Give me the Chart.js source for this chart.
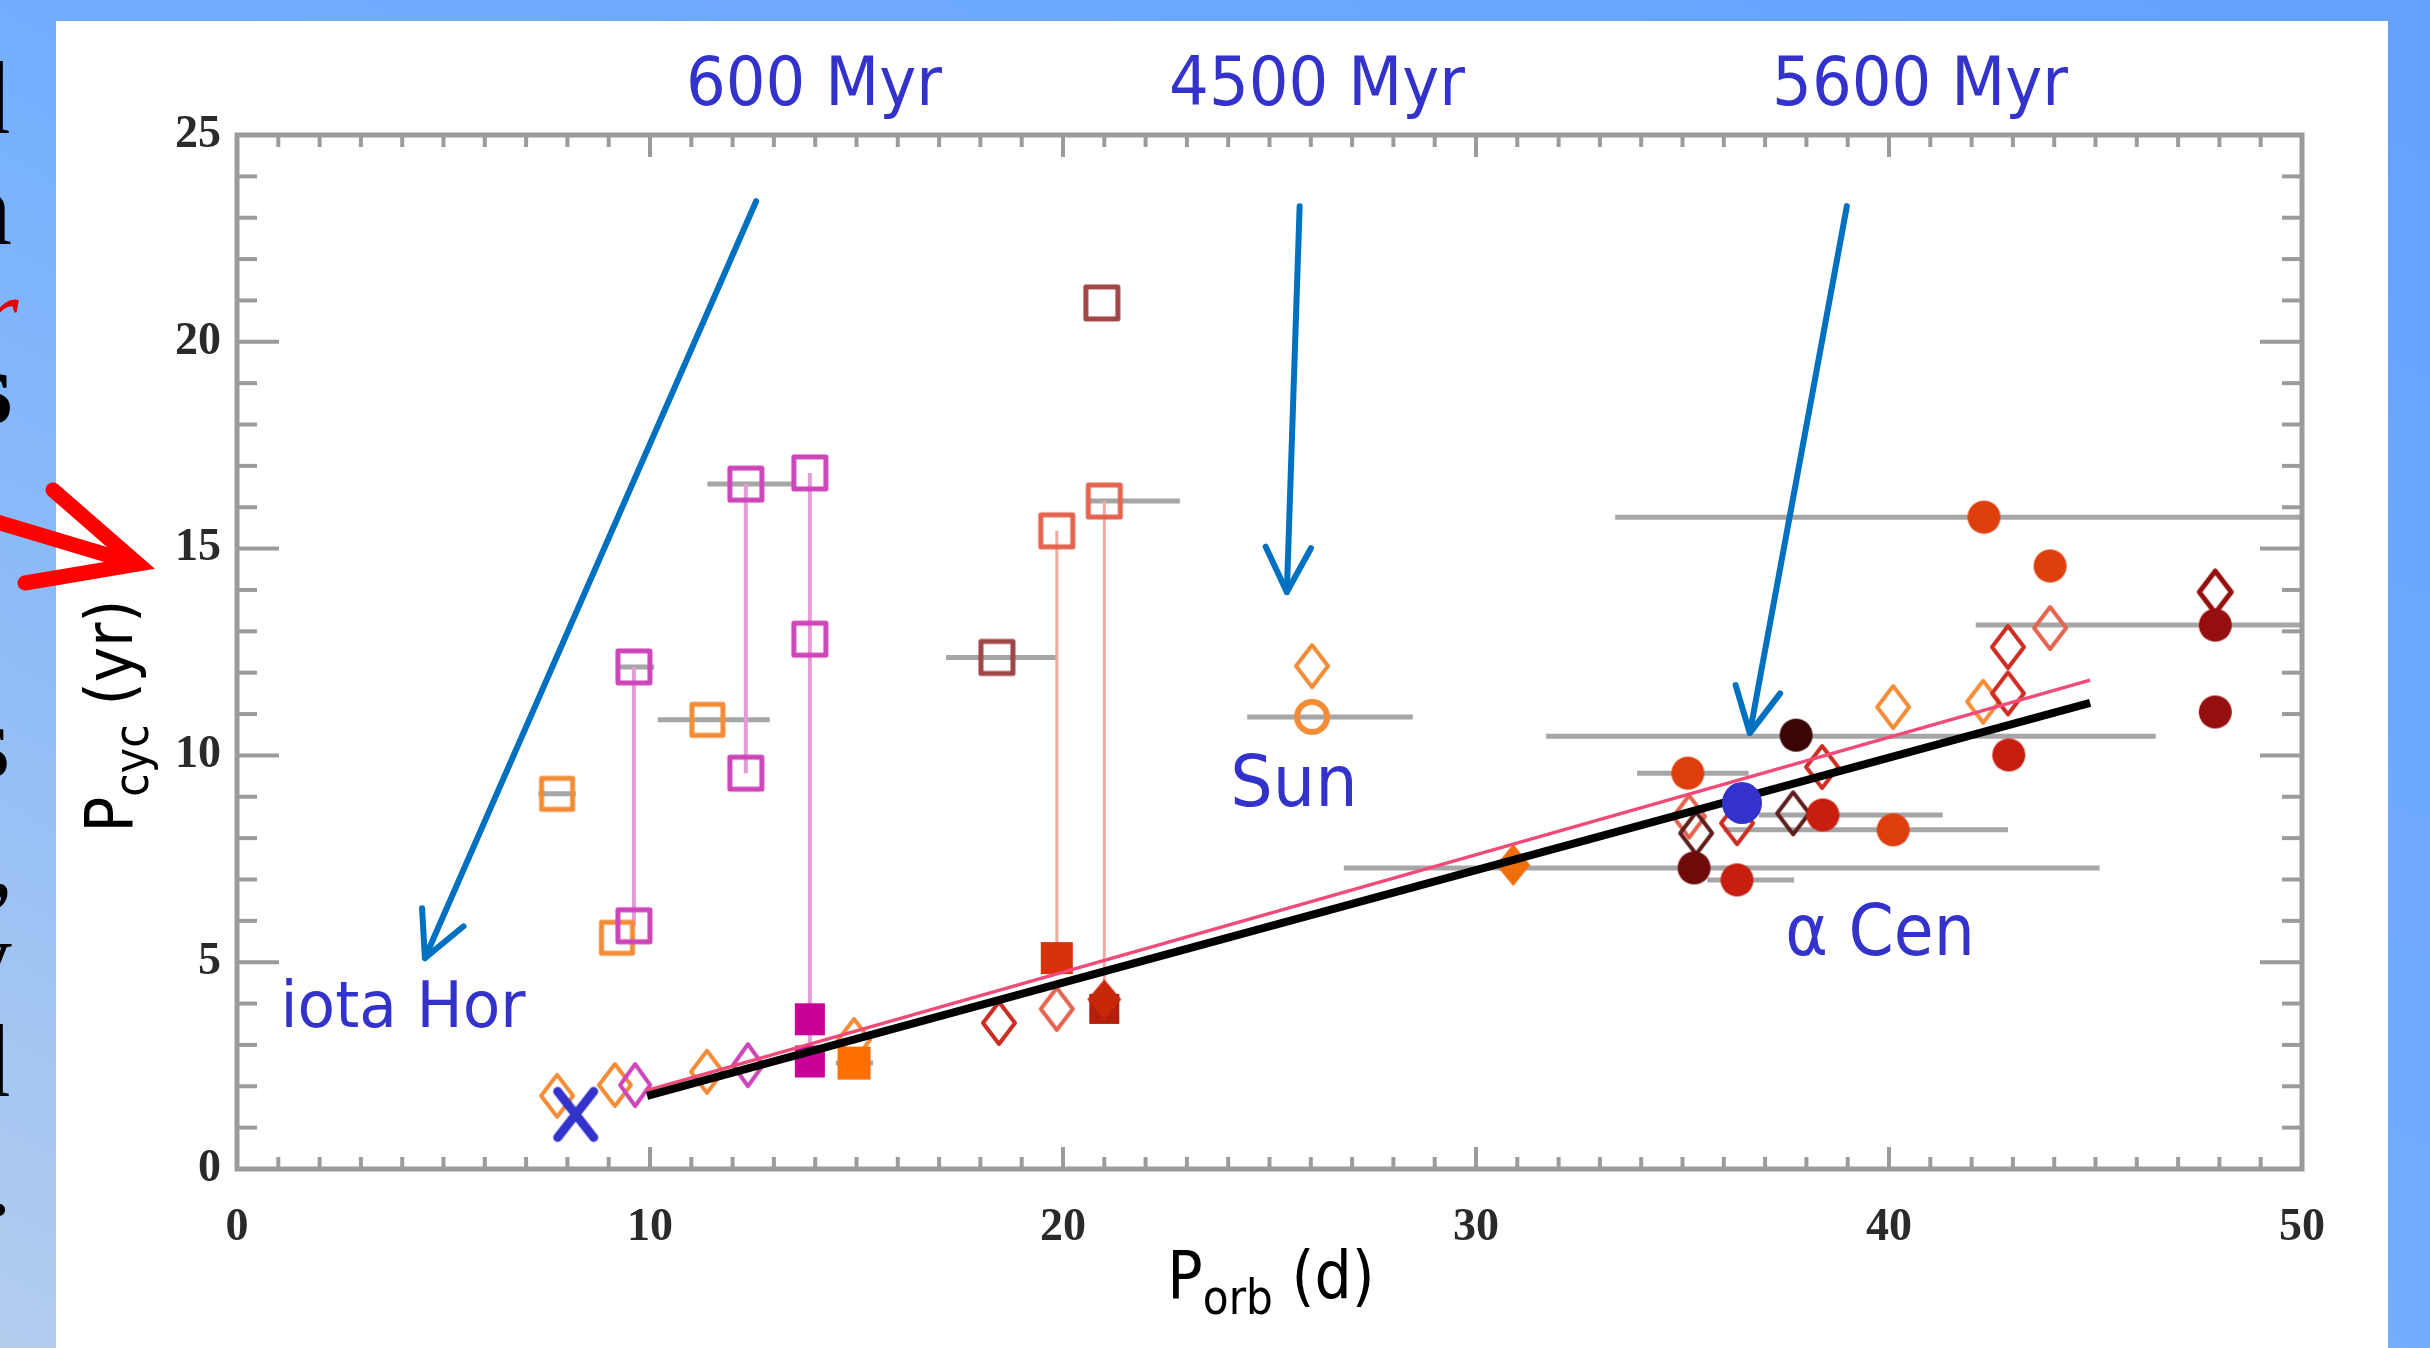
<!DOCTYPE html>
<html>
<head>
<meta charset="utf-8">
<script src="https://cdn.jsdelivr.net/npm/chart.js@4.4.1/dist/chart.umd.min.js"></script>
<style>
html,body{margin:0;padding:0;width:2430px;height:1348px;overflow:hidden;}
body{position:relative;background:linear-gradient(to bottom left,#64a1ff 0%,#71aeff 50%,#b3cdee 100%);font-family:'DejaVu Sans',sans-serif;}
#panel{position:absolute;left:56px;top:21px;width:2332px;height:1327px;background:#fff;}
#c{position:absolute;left:0;top:0;}
.ann{position:absolute;color:#3333cc;white-space:nowrap;line-height:1;}
.axt{position:absolute;color:#000;white-space:nowrap;line-height:1;font-size:66px;}
.sub{position:relative;top:16px;font-size:0.72em;}
#lefttext{position:absolute;left:0;top:0;width:56px;height:1348px;overflow:hidden;font-family:'Liberation Serif',serif;font-size:104px;color:#000;}
#lefttext div{position:absolute;line-height:1;}
#redarrow{position:absolute;left:0;top:0;}
</style>
</head>
<body>
<div id="panel"></div>
<div id="lefttext">
  <div style="left:-42px;top:46px">d</div>
  <div style="left:-40px;top:157px">n</div>
  <div style="left:-22px;top:262px;color:#e00000;font-style:italic">r</div>
  <div style="left:-28px;top:336px;font-weight:bold">s</div>
  <div style="left:-30px;top:690px">s</div>
  <div style="left:-12px;top:808px">,</div>
  <div style="left:-40px;top:905px">y</div>
  <div style="left:-42px;top:1009px">d</div>
  <div style="left:-14px;top:1128px">.</div>
</div>
<canvas id="c" width="2430" height="1348" style="width:2430px;height:1348px"></canvas>
<svg id="redarrow" width="2430" height="1348" viewBox="0 0 2430 1348">
  <line x1="-6" y1="521" x2="124" y2="560" stroke="#ff0000" stroke-width="15" stroke-linecap="round"/>
  <polyline points="53,490 138,564 25,583" fill="none" stroke="#ff0000" stroke-width="15" stroke-linecap="round" stroke-linejoin="miter"/>
</svg>
<div class="ann" style="left:814px;top:82px;font-size:68px;transform:translate(-50%,-50%) scaleX(0.92)">600 Myr</div>
<div class="ann" style="left:1317px;top:82px;font-size:68px;transform:translate(-50%,-50%) scaleX(0.92)">4500 Myr</div>
<div class="ann" style="left:1920px;top:82px;font-size:68px;transform:translate(-50%,-50%) scaleX(0.92)">5600 Myr</div>
<div class="ann" style="left:1294px;top:781px;font-size:72px;transform:translate(-50%,-50%) scaleX(0.93)">Sun</div>
<div class="ann" style="left:1880px;top:930px;font-size:72px;transform:translate(-50%,-50%) scaleX(0.9)">α Cen</div>
<div class="ann" style="left:403px;top:1005px;font-size:64px;transform:translate(-50%,-50%) scaleX(0.96)">iota Hor</div>
<div class="axt" id="xtitle" style="left:1271px;top:1276px;transform:translate(-50%,-50%) scaleX(0.89)">P<span class="sub">orb</span> (d)</div>
<div class="axt" id="ytitle" style="left:110px;top:716px;transform:translate(-50%,-50%) rotate(-90deg) scaleX(0.9)">P<span class="sub">cyc</span> (yr)</div>

<script>
// ---------------- data ----------------
const xMin = 0, xMax = 50, xStep = 10, xMinorStep = 1;
const yMin = 0, yMax = 25, yStep = 5, yMinorStep = 1;

// open squares
const orangeOpenSqX = [7.75, 9.2, 11.39];
const orangeOpenSqY = [9.07, 5.59, 10.86];
const magentaOpenSqX = [9.61, 9.61, 12.32, 12.32, 13.87, 13.87];
const magentaOpenSqY = [12.14, 5.88, 16.56, 9.57, 16.83, 12.81];
const brownOpenSqX = [18.4, 20.94];
const brownOpenSqY = [12.37, 20.94];
const coralOpenSqX = [19.85, 21.0];
const coralOpenSqY = [15.43, 16.15];
// filled squares
const orangeFilledSqX = [14.94];
const orangeFilledSqY = [2.56];
const magentaFilledSqX = [13.87, 13.87];
const magentaFilledSqY = [3.62, 2.6];
const redFilledSqX = [19.85];
const redFilledSqY = [5.1];
const darkRedFilledSqX = [21.0];
const darkRedFilledSqY = [3.87];
// open diamonds
const orangeDiaX = [7.75, 9.15, 11.38, 14.94, 26.03, 40.1, 42.28];
const orangeDiaY = [1.77, 2.03, 2.35, 3.12, 12.16, 11.17, 11.3];
const magentaDiaX = [9.64, 12.37];
const magentaDiaY = [2.03, 2.51];
const redDiaX = [18.45, 36.32, 38.38, 42.88, 42.88];
const redDiaY = [3.53, 8.36, 9.72, 12.62, 11.5];
const coralDiaX = [19.85, 35.16, 43.9];
const coralDiaY = [3.87, 8.52, 13.08];
const brownDiaX = [35.33, 37.68];
const brownDiaY = [8.12, 8.6];
const darkRedDiaX = [47.9];
const darkRedDiaY = [13.95];
// filled diamonds
const orangeFilledDiaX = [30.9];
const orangeFilledDiaY = [7.35];
const redFilledDiaX = [21.0];
const redFilledDiaY = [4.1];
// open circle (Sun)
const sunX = [26.03];
const sunY = [10.93];
// filled circles
const redOrangeDotX = [42.3, 43.9, 35.13, 40.1];
const redOrangeDotY = [15.76, 14.58, 9.57, 8.2];
const redDotX = [42.9, 38.4, 36.32];
const redDotY = [10.01, 8.56, 6.99];
const darkRedDotX = [47.9, 47.9];
const darkRedDotY = [13.15, 11.05];
const maroonDotX = [35.28];
const maroonDotY = [7.28];
const blackDotX = [37.75];
const blackDotY = [10.49];
// highlighted stars
const alphaCenX = [36.44];
const alphaCenY = [8.85];
const iotaHorX = [8.2];
const iotaHorY = [1.32];
// horizontal (grey) error bars
const errLoX = [7.3, 9.18, 10.19, 11.39, 14.5, 17.17, 20.6, 24.46, 26.8, 31.7, 33.37, 42.1, 33.9, 36.85, 36.0, 35.6];
const errHiX = [8.2, 10.1, 12.9, 13.44, 15.4, 19.83, 22.83, 28.47, 45.1, 46.46, 50, 50, 36.6, 41.3, 42.88, 37.7];
const errY   = [9.07, 12.14, 10.86, 16.56, 2.56, 12.37, 16.15, 10.93, 7.28, 10.46, 15.76, 13.15, 9.57, 8.56, 8.2, 6.99];
// vertical links between cycles of the same star
const magLinkX = [9.61, 12.32, 13.87];
const magLinkLo = [5.88, 9.57, 2.6];
const magLinkHi = [12.14, 16.56, 16.83];
const coralLinkX = [19.85, 21.0];
const coralLinkLo = [5.1, 3.87];
const coralLinkHi = [15.43, 16.15];
// fit lines (end points)
const blackFitX = [9.93, 44.87];
const blackFitY = [1.77, 11.27];
const pinkFitX = [9.93, 44.87];
const pinkFitY = [1.9, 11.82];
// annotation arrows (data units)
const arrowFromX = [12.57, 25.73, 38.98];
const arrowFromY = [23.40, 23.28, 23.28];
const arrowToX = [4.55, 25.42, 36.63];
const arrowToY = [5.10, 13.95, 10.54];

// ---------------- helpers ----------------
function pts(xs, ys){ return xs.map((x,i)=>({x:x, y:ys[i]})); }
function hSegs(lo, hi, ys){ const d=[]; lo.forEach((a,i)=>{ d.push({x:a,y:ys[i]},{x:hi[i],y:ys[i]},{x:hi[i],y:null}); }); return d; }
function vSegs(xs, lo, hi){ const d=[]; xs.forEach((x,i)=>{ d.push({x:x,y:lo[i]},{x:x,y:hi[i]},{x:x,y:null}); }); return d; }

function marker(shape, color, filled, w, h, lw){
  const pad = Math.ceil(lw) + 2;
  const c = document.createElement('canvas');
  c.width = Math.round(w + pad*2); c.height = Math.round(h + pad*2);
  const g = c.getContext('2d');
  g.strokeStyle = color; g.fillStyle = color; g.lineWidth = lw;
  g.lineJoin = 'round'; g.lineCap = 'round';
  const cx = c.width/2, cy = c.height/2;
  g.beginPath();
  if (shape === 'square') g.rect(cx-w/2, cy-h/2, w, h);
  else if (shape === 'diamond'){ g.moveTo(cx, cy-h/2); g.lineTo(cx+w/2, cy); g.lineTo(cx, cy+h/2); g.lineTo(cx-w/2, cy); g.closePath(); }
  else if (shape === 'circle') g.ellipse(cx, cy, w/2, h/2, 0, 0, Math.PI*2);
  else if (shape === 'x'){ g.moveTo(cx-w/2, cy-h/2); g.lineTo(cx+w/2, cy+h/2); g.moveTo(cx+w/2, cy-h/2); g.lineTo(cx-w/2, cy+h/2); }
  if (filled) g.fill(); else g.stroke();
  return c;
}

const C = {
  orange: 'rgb(242,140,55)',
  orangeFill: 'rgb(255,110,0)',
  magenta: 'rgb(205,70,185)',
  magentaFill: 'rgb(200,0,150)',
  brown: 'rgb(160,70,70)',
  coral: 'rgb(228,100,80)',
  red: 'rgb(205,45,35)',
  redFill: 'rgb(215,50,10)',
  darkRed: 'rgb(150,15,15)',
  redOrange: 'rgb(222,62,12)',
  maroon: 'rgb(110,10,10)',
  black: 'rgb(60,5,5)',
  blue: '#3333cc'
};

const layers = []; // bottom -> top
function addPoints(xs, ys, style){
  layers.push({ data: pts(xs, ys), pointStyle: style, pointRadius: 10, pointHoverRadius: 10, showLine: false });
}
function addLine(data, color, width){
  layers.push({ type: 'line', data: data, borderColor: color, borderWidth: width, pointRadius: 0, showLine: true, spanGaps: false, fill: false, tension: 0 });
}

addLine(hSegs(errLoX, errHiX, errY), 'rgba(150,150,150,0.85)', 5);
addLine(vSegs(magLinkX, magLinkLo, magLinkHi), 'rgb(230,155,215)', 4);
addLine(vSegs(coralLinkX, coralLinkLo, coralLinkHi), 'rgb(240,170,160)', 3);

addPoints(orangeOpenSqX, orangeOpenSqY, marker('square', C.orange, false, 31, 31, 5));
addPoints(magentaOpenSqX, magentaOpenSqY, marker('square', C.magenta, false, 32, 32, 5));
addPoints(brownOpenSqX, brownOpenSqY, marker('square', C.brown, false, 32, 32, 5));
addPoints(coralOpenSqX, coralOpenSqY, marker('square', C.coral, false, 32, 32, 5));
addPoints(sunX, sunY, marker('circle', C.orange, false, 30, 30, 6));
addPoints(orangeDiaX, orangeDiaY, marker('diamond', C.orange, false, 32, 42, 4));
addPoints(magentaDiaX, magentaDiaY, marker('diamond', C.magenta, false, 30, 42, 4));
addPoints(redDiaX, redDiaY, marker('diamond', C.red, false, 32, 42, 4));
addPoints(coralDiaX, coralDiaY, marker('diamond', C.coral, false, 32, 42, 4));
addPoints(brownDiaX, brownDiaY, marker('diamond', 'rgb(95,30,30)', false, 32, 42, 4));
addPoints(darkRedDiaX, darkRedDiaY, marker('diamond', C.darkRed, false, 32, 42, 5));
addPoints(orangeFilledSqX, orangeFilledSqY, marker('square', C.orangeFill, true, 33, 33, 0));
addPoints(magentaFilledSqX, magentaFilledSqY, marker('square', C.magentaFill, true, 30, 32, 0));
addPoints(redFilledSqX, redFilledSqY, marker('square', C.redFill, true, 32, 32, 0));
addPoints(darkRedFilledSqX, darkRedFilledSqY, marker('square', 'rgb(180,30,10)', true, 30, 30, 0));
addPoints(redFilledDiaX, redFilledDiaY, marker('diamond', 'rgb(200,40,10)', true, 34, 40, 0));
addPoints(orangeFilledDiaX, orangeFilledDiaY, marker('diamond', 'rgb(240,110,10)', true, 34, 42, 0));
addPoints(redOrangeDotX, redOrangeDotY, marker('circle', C.redOrange, true, 33, 33, 0));
addPoints(redDotX, redDotY, marker('circle', 'rgb(200,30,15)', true, 33, 33, 0));
addPoints(darkRedDotX, darkRedDotY, marker('circle', C.darkRed, true, 33, 33, 0));
addPoints(maroonDotX, maroonDotY, marker('circle', C.maroon, true, 33, 33, 0));
addPoints(blackDotX, blackDotY, marker('circle', C.black, true, 33, 33, 0));

addLine(pts(pinkFitX, pinkFitY), 'rgb(240,75,120)', 3.5);
addLine(pts(blackFitX, blackFitY), '#000000', 8);

addPoints(alphaCenX, alphaCenY, marker('circle', C.blue, true, 40, 42, 0));
addPoints(iotaHorX, iotaHorY, marker('x', C.blue, false, 36, 46, 9));

const N = layers.length;
layers.forEach((d, i) => { d.order = N - i; });

// ---------------- plugins ----------------
const framePlugin = {
  id: 'frame',
  beforeDatasetsDraw(chart){
    const {ctx, chartArea: a, scales: {x, y}} = chart;
    ctx.save();
    ctx.strokeStyle = 'rgb(155,155,155)';
    ctx.lineCap = 'butt';
    ctx.lineWidth = 4;
    const seg = (x0,y0,x1,y1) => { ctx.beginPath(); ctx.moveTo(x0,y0); ctx.lineTo(x1,y1); ctx.stroke(); };
    for (let v = xMin; v <= xMax + 1e-9; v += xMinorStep){
      const px = x.getPixelForValue(v);
      const L = (Math.abs(v % xStep) < 1e-9) ? 22 : 12;
      seg(px, a.bottom, px, a.bottom - L);
      seg(px, a.top, px, a.top + L);
    }
    for (let v = yMin; v <= yMax + 1e-9; v += yMinorStep){
      const py = y.getPixelForValue(v);
      const L = (Math.abs(v % yStep) < 1e-9) ? 42 : 20;
      seg(a.left, py, a.left + L, py);
      seg(a.right, py, a.right - L, py);
    }
    ctx.lineWidth = 5;
    ctx.strokeRect(a.left, a.top, a.right - a.left, a.bottom - a.top);
    ctx.restore();
  }
};

const arrowPlugin = {
  id: 'arrows',
  afterDatasetsDraw(chart){
    const {ctx, scales: {x, y}} = chart;
    ctx.save();
    ctx.strokeStyle = '#0070c0';
    ctx.lineWidth = 6;
    ctx.lineCap = 'round';
    ctx.lineJoin = 'round';
    for (let i = 0; i < arrowFromX.length; i++){
      const x0 = x.getPixelForValue(arrowFromX[i]), y0 = y.getPixelForValue(arrowFromY[i]);
      const x1 = x.getPixelForValue(arrowToX[i]), y1 = y.getPixelForValue(arrowToY[i]);
      ctx.beginPath(); ctx.moveTo(x0, y0); ctx.lineTo(x1, y1); ctx.stroke();
      const ang = Math.atan2(y0 - y1, x0 - x1), hl = 50, sp = 0.47;
      ctx.beginPath();
      ctx.moveTo(x1 + hl*Math.cos(ang + sp), y1 + hl*Math.sin(ang + sp));
      ctx.lineTo(x1, y1);
      ctx.lineTo(x1 + hl*Math.cos(ang - sp), y1 + hl*Math.sin(ang - sp));
      ctx.stroke();
    }
    ctx.restore();
  }
};

const tickFont = { family: 'Liberation Serif', weight: 'bold', size: 46 };

new Chart(document.getElementById('c').getContext('2d'), {
  type: 'scatter',
  data: { datasets: layers },
  options: {
    responsive: false,
    animation: false,
    devicePixelRatio: 1,
    layout: { padding: { left: 0, top: 135, right: 128, bottom: 0 } },
    plugins: { legend: { display: false }, tooltip: { enabled: false } },
    events: [],
    scales: {
      x: {
        type: 'linear', min: xMin, max: xMax, position: 'bottom',
        grid: { display: false, drawTicks: false }, border: { display: false },
        ticks: { stepSize: xStep, padding: 32, color: '#2a2a2a', font: tickFont, maxRotation: 0, autoSkip: false },
        afterFit(s){ s.height = 1348 - 1169; }
      },
      y: {
        type: 'linear', min: yMin, max: yMax, position: 'left',
        grid: { display: false, drawTicks: false }, border: { display: false },
        ticks: { stepSize: yStep, padding: 16, color: '#2a2a2a', font: tickFont, autoSkip: false },
        afterFit(s){ s.width = 237; }
      }
    }
  },
  plugins: [framePlugin, arrowPlugin]
});
</script>
</body>
</html>
